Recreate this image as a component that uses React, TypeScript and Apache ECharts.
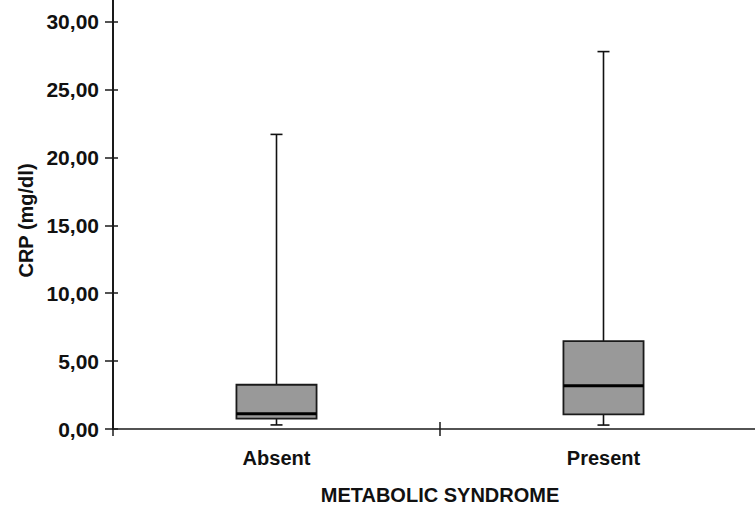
import React, { useEffect, useRef } from "react";
import * as echarts from "echarts";

const categories = ["Absent", "Present"];
const lowValues = [0.3, 0.29];
const q1Values = [0.76, 1.08];
const medianValues = [1.13, 3.19];
const q3Values = [3.26, 6.48];
const highValues = [21.7, 27.8];
const yTicks = [0, 5, 10, 15, 20, 25, 30];
const yMax = 31.6;

const FONT = "'Liberation Sans', Arial, sans-serif";
const INK = "#111111";

export default function App() {
  const ref = useRef<HTMLDivElement>(null);
  useEffect(() => {
    if (!ref.current) return;
    const chart = echarts.init(ref.current, null, { renderer: "svg" });
    const data = categories.map((c, i) => [
      i,
      lowValues[i],
      q1Values[i],
      medianValues[i],
      q3Values[i],
      highValues[i],
    ]);
    const labelStyle = {
      color: INK,
      fontFamily: FONT,
      fontWeight: "bold" as const,
      fontSize: 20,
    };
    chart.setOption({
      animation: false,
      backgroundColor: "#ffffff",
      grid: {
        left: 113,
        right: -12,
        top: 0,
        bottom: 77,
        containLabel: false,
        outerBoundsMode: "none",
      },
      xAxis: [
        {
          type: "category",
          data: categories,
          boundaryGap: true,
          position: "bottom",
          axisLine: { show: true, lineStyle: { color: "#1a1a1a", width: 1.7 } },
          axisTick: { show: true, length: 7, lineStyle: { color: "#1a1a1a", width: 1.5 } },
          axisLabel: { ...labelStyle, margin: 19 },
          name: "METABOLIC SYNDROME",
          nameLocation: "middle",
          nameGap: 56,
          nameTextStyle: { ...labelStyle, verticalAlign: "top" },
          splitLine: { show: false },
        },
        {
          type: "category",
          data: categories,
          boundaryGap: true,
          position: "bottom",
          axisLine: { show: false },
          axisTick: { show: true, inside: true, length: 7, lineStyle: { color: "#1a1a1a", width: 1.5 } },
          axisLabel: { show: false },
          splitLine: { show: false },
        },
      ],
      yAxis: [
        {
          type: "value",
          min: 0,
          max: yMax,
          position: "left",
          axisLine: { show: true, lineStyle: { color: "#1a1a1a", width: 2 } },
          axisTick: {
            show: true,
            length: 8,
            customValues: yTicks,
            lineStyle: { color: "#1a1a1a", width: 1.5 },
          },
          axisLabel: {
            ...labelStyle,
            fontSize: 21,
            margin: 14,
            customValues: yTicks,
            formatter: (v: number) => v.toFixed(2).replace(".", ","),
          },
          splitLine: { show: false },
          name: "CRP (mg/dl)",
          nameLocation: "middle",
          nameGap: 77,
          nameRotate: 90,
          nameTextStyle: { ...labelStyle, padding: [0, 12, 0, 0] },
        },
        {
          type: "value",
          min: 0,
          max: yMax,
          position: "left",
          axisLine: { show: false },
          axisTick: {
            show: true,
            inside: true,
            length: 5,
            customValues: yTicks,
            lineStyle: { color: "#1a1a1a", width: 1.5 },
          },
          axisLabel: { show: false },
          splitLine: { show: false },
        },
      ],
      series: [
        {
          type: "custom",
          xAxisIndex: 0,
          yAxisIndex: 0,
          data,
          encode: { x: 0, y: [1, 2, 3, 4, 5] },
          renderItem: (params: any, api: any) => {
            const xi = api.value(0);
            const x = api.coord([xi, 0])[0];
            const yLow = api.coord([xi, api.value(1)])[1];
            const yQ1 = api.coord([xi, api.value(2)])[1];
            const yMed = api.coord([xi, api.value(3)])[1];
            const yQ3 = api.coord([xi, api.value(4)])[1];
            const yHigh = api.coord([xi, api.value(5)])[1];
            const band = api.size([1, 0])[0];
            const bw = band * 0.245;
            const cap = 12;
            const lineStyle = { stroke: "#111111", lineWidth: 1.6 };
            return {
              type: "group",
              children: [
                { type: "line", shape: { x1: x, y1: yQ3, x2: x, y2: yHigh }, style: lineStyle },
                { type: "line", shape: { x1: x - cap / 2, y1: yHigh, x2: x + cap / 2, y2: yHigh }, style: lineStyle },
                { type: "line", shape: { x1: x, y1: yQ1, x2: x, y2: yLow }, style: lineStyle },
                { type: "line", shape: { x1: x - cap / 2, y1: yLow, x2: x + cap / 2, y2: yLow }, style: lineStyle },
                {
                  type: "rect",
                  shape: { x: x - bw / 2, y: yQ3, width: bw, height: yQ1 - yQ3 },
                  style: { fill: "#999999", stroke: "#1a1a1a", lineWidth: 1.8 },
                },
                {
                  type: "line",
                  shape: { x1: x - bw / 2, y1: yMed, x2: x + bw / 2, y2: yMed },
                  style: { stroke: "#000000", lineWidth: 3 },
                },
              ],
            };
          },
        },
      ],
    });
    return () => chart.dispose();
  }, []);
  return (
    <div
      ref={ref}
      style={{ position: "fixed", left: 0, top: 0, width: 755, height: 506 }}
    />
  );
}
